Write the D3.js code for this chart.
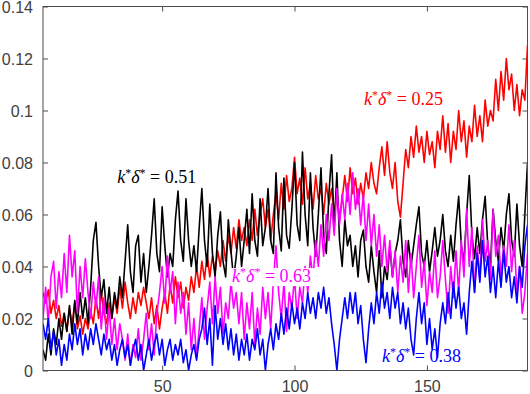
<!DOCTYPE html>
<html>
<head>
<meta charset="utf-8">
<script src="https://cdn.jsdelivr.net/npm/d3@7"></script>
<style>
  body { margin: 0; background: #fff; }
</style>
</head>
<body>
<div id="chart"></div>
<script>
// x positions (one sample per unit)
var xStart = 5;
var xEnd = 188;

// k*delta* = 0.25
var redVals = [
  0.030, 0.026, 0.031, 0.022, 0.027, 0.020, 0.025, 0.017, 0.022, 0.015,
  0.024, 0.018, 0.026, 0.016, 0.021, 0.014, 0.020, 0.016, 0.023, 0.018,
  0.028, 0.020, 0.030, 0.022, 0.018, 0.026, 0.020, 0.028, 0.022, 0.032,
  0.024, 0.034, 0.026, 0.020, 0.028, 0.022, 0.030, 0.025, 0.032, 0.026,
  0.020, 0.028, 0.018, 0.025, 0.016, 0.024, 0.030, 0.022, 0.033, 0.026,
  0.036, 0.028, 0.034, 0.024, 0.032, 0.027, 0.036, 0.030, 0.040, 0.032,
  0.042, 0.035, 0.045, 0.036, 0.044, 0.038, 0.046, 0.040, 0.050, 0.042,
  0.052, 0.045, 0.055, 0.047, 0.058, 0.050, 0.055, 0.048, 0.058, 0.050,
  0.062, 0.052, 0.060, 0.066, 0.055, 0.062, 0.050, 0.060, 0.068, 0.058,
  0.072, 0.062, 0.075, 0.065, 0.070, 0.082, 0.068, 0.074, 0.064, 0.078,
  0.066, 0.072, 0.062, 0.075, 0.066, 0.070, 0.060, 0.072, 0.064, 0.070,
  0.060, 0.068, 0.058, 0.066, 0.075, 0.065, 0.078, 0.068, 0.074, 0.064,
  0.072, 0.066, 0.076, 0.070, 0.080, 0.072, 0.068, 0.078, 0.086, 0.075,
  0.088, 0.076, 0.070, 0.080, 0.065, 0.059, 0.072, 0.085, 0.078, 0.090,
  0.082, 0.094, 0.084, 0.090, 0.080, 0.092, 0.083, 0.088, 0.078, 0.092,
  0.085, 0.098, 0.084, 0.095, 0.080, 0.092, 0.085, 0.100, 0.088, 0.096,
  0.082, 0.094, 0.088, 0.102, 0.090, 0.098, 0.088, 0.104, 0.094, 0.100,
  0.096, 0.112, 0.100, 0.115, 0.104, 0.120, 0.108, 0.114, 0.100, 0.110,
  0.098, 0.108, 0.104, 0.125
];

// k*delta* = 0.51
var blackVals = [
  0.008, 0.004, 0.014, 0.006, 0.016, 0.010, 0.020, 0.012, 0.022, 0.015,
  0.025, 0.014, 0.027, 0.018, 0.030, 0.020, 0.028, 0.018, 0.032, 0.050,
  0.057, 0.040, 0.028, 0.035, 0.022, 0.032, 0.020, 0.030, 0.024, 0.036,
  0.028, 0.042, 0.056, 0.038, 0.030, 0.048, 0.052, 0.034, 0.045, 0.030,
  0.040, 0.052, 0.066, 0.045, 0.038, 0.063, 0.048, 0.036, 0.045, 0.040,
  0.058, 0.069, 0.050, 0.042, 0.066, 0.050, 0.040, 0.048, 0.038, 0.055,
  0.070, 0.050, 0.040, 0.064, 0.045, 0.036, 0.052, 0.061, 0.042, 0.036,
  0.058, 0.046, 0.035, 0.044, 0.055, 0.040, 0.050, 0.062, 0.045, 0.068,
  0.050, 0.044, 0.066, 0.048, 0.055, 0.070, 0.050, 0.045, 0.076, 0.055,
  0.046, 0.074, 0.052, 0.047, 0.062, 0.080, 0.056, 0.050, 0.084, 0.060,
  0.048, 0.076, 0.055, 0.044, 0.060, 0.078, 0.052, 0.045, 0.068, 0.083,
  0.055, 0.076, 0.050, 0.040, 0.058, 0.048, 0.052, 0.040, 0.048, 0.036,
  0.050, 0.054, 0.040, 0.034, 0.048, 0.038, 0.030, 0.046, 0.028, 0.040,
  0.035, 0.048, 0.036, 0.045, 0.050, 0.058, 0.042, 0.036, 0.050, 0.040,
  0.048, 0.056, 0.063, 0.045, 0.040, 0.050, 0.038, 0.046, 0.055, 0.044,
  0.050, 0.060, 0.046, 0.040, 0.052, 0.042, 0.056, 0.067, 0.048, 0.042,
  0.060, 0.075, 0.052, 0.043, 0.055, 0.045, 0.058, 0.067, 0.048, 0.040,
  0.062, 0.050, 0.042, 0.055, 0.046, 0.060, 0.068, 0.050, 0.044, 0.064,
  0.048, 0.040, 0.060, 0.080
];

// k*delta* = 0.63
var magentaVals = [
  0.020, 0.032, 0.018, 0.036, 0.042, 0.024, 0.038, 0.028, 0.045, 0.030,
  0.052, 0.036, 0.046, 0.022, 0.040, 0.028, 0.043, 0.030, 0.020, 0.034,
  0.024, 0.036, 0.016, 0.028, 0.012, 0.024, 0.010, 0.020, 0.008, 0.018,
  0.012, 0.004, 0.014, 0.002, 0.010, 0.005, 0.016, 0.004, 0.012, 0.022,
  0.008, 0.018, 0.006, 0.022, 0.030, 0.040, 0.026, 0.044, 0.030, 0.038,
  0.018, 0.034, 0.022, 0.030, 0.014, 0.026, 0.008, 0.020, 0.005, 0.016,
  0.028, 0.012, 0.024, 0.034, 0.018, 0.036, 0.022, 0.032, 0.014, 0.026,
  0.020, 0.034, 0.024, 0.030, 0.018, 0.030, 0.012, 0.026, 0.016, 0.030,
  0.010, 0.024, 0.014, 0.032, 0.020, 0.030, 0.016, 0.034, 0.048, 0.030,
  0.020, 0.034, 0.015, 0.030, 0.024, 0.036, 0.020, 0.032, 0.026, 0.040,
  0.030, 0.044, 0.035, 0.050, 0.040, 0.056, 0.044, 0.060, 0.050, 0.064,
  0.052, 0.070, 0.056, 0.068, 0.058, 0.072, 0.060, 0.076, 0.062, 0.070,
  0.056, 0.068, 0.050, 0.064, 0.048, 0.060, 0.044, 0.056, 0.040, 0.052,
  0.038, 0.050, 0.036, 0.046, 0.030, 0.044, 0.034, 0.050, 0.030, 0.045,
  0.028, 0.040, 0.052, 0.032, 0.042, 0.025, 0.038, 0.030, 0.046, 0.028,
  0.036, 0.050, 0.035, 0.022, 0.040, 0.028, 0.046, 0.030, 0.050, 0.036,
  0.062, 0.040, 0.055, 0.030, 0.048, 0.035, 0.058, 0.042, 0.050, 0.035,
  0.062, 0.044, 0.052, 0.036, 0.048, 0.040, 0.056, 0.038, 0.050, 0.030,
  0.040, 0.022, 0.030, 0.045
];

// k*delta* = 0.38
var blueVals = [
  0.018, 0.012, 0.020, 0.008, 0.015, 0.006, 0.012, 0.002, 0.010, 0.004,
  0.014, 0.008, 0.018, 0.010, 0.016, 0.006, 0.014, 0.008, 0.016, 0.010,
  0.018, 0.012, 0.006, 0.014, 0.008, 0.012, 0.004, 0.010, 0.002, 0.008,
  0.012, 0.005, 0.010, 0.002, 0.008, 0.012, 0.004, 0.010, 0.000, 0.006,
  0.012, 0.004, 0.010, 0.014, 0.006, 0.012, 0.002, 0.008, 0.012, 0.004,
  0.010, 0.006, 0.012, 0.003, 0.008, 0.000, 0.006, 0.010, 0.004, 0.012,
  0.016, 0.024, 0.010, 0.020, 0.002, 0.025, 0.012, 0.020, 0.010, 0.018,
  0.008, 0.016, 0.006, 0.014, 0.004, 0.012, 0.006, 0.014, 0.004, 0.012,
  0.008, 0.016, 0.006, 0.012, 0.000, 0.010, 0.016, 0.008, 0.018, 0.012,
  0.022, 0.014, 0.024, 0.016, 0.026, 0.018, 0.024, 0.016, 0.026, 0.020,
  0.030, 0.022, 0.028, 0.020, 0.030, 0.024, 0.032, 0.022, 0.028, 0.018,
  0.010, 0.000, 0.012, 0.020, 0.028, 0.020, 0.030, 0.022, 0.030, 0.018,
  0.025, 0.012, 0.003, 0.016, 0.026, 0.018, 0.030, 0.022, 0.034, 0.024,
  0.030, 0.020, 0.032, 0.024, 0.030, 0.018, 0.026, 0.016, 0.024, 0.012,
  0.006, 0.020, 0.030, 0.018, 0.026, 0.010, 0.020, 0.008, 0.016, 0.005,
  0.018, 0.026, 0.018, 0.030, 0.020, 0.034, 0.024, 0.032, 0.020, 0.026,
  0.014, 0.030, 0.042, 0.030, 0.045, 0.034, 0.050, 0.036, 0.044, 0.030,
  0.040, 0.028, 0.042, 0.032, 0.046, 0.034, 0.040, 0.028, 0.036, 0.026,
  0.040, 0.032, 0.048, 0.056
];

var yTicks = [0, 0.02, 0.04, 0.06, 0.08, 0.1, 0.12, 0.14];
var xTicks = [50, 100, 150];

var seriesNames = ["0.25", "0.51", "0.63", "0.38"];
var seriesColors = ["#ff0000", "#000000", "#ff00ff", "#0000ff"];

// svg area
var svgWidth = 530;
var svgHeight = 394;

var margin = { top: 6.5, right: 2.5, bottom: 23.5, left: 43 };
var width = svgWidth - margin.left - margin.right;
var height = svgHeight - margin.top - margin.bottom;

var svg = d3.select("#chart")
  .append("svg")
  .attr("width", svgWidth)
  .attr("height", svgHeight);

var chartGroup = svg.append("g")
  .attr("transform", `translate(${margin.left}, ${margin.top})`);

var xScale = d3.scaleLinear().domain([xStart, xEnd]).range([0, width]);
var yScale = d3.scaleLinear().domain([0, 0.14]).range([height, 0]);

var xs = d3.range(xStart, xEnd + 1);
var allSeries = [redVals, blackVals, magentaVals, blueVals];

chartGroup.append("clipPath")
  .attr("id", "plotclip")
  .append("rect")
  .attr("width", width)
  .attr("height", height);

var line = d3.line()
  .x((d, i) => xScale(xs[i]))
  .y(d => yScale(d));

// lines, drawn red first and blue last
chartGroup.append("g")
  .attr("clip-path", "url(#plotclip)")
  .selectAll("path")
  .data(allSeries)
  .enter()
  .append("path")
  .attr("d", line)
  .attr("fill", "none")
  .attr("stroke", (d, i) => seriesColors[i])
  .attr("stroke-width", 1.6)
  .attr("stroke-linejoin", "round");

// axes: ticks point inward, box on all sides
var axisColor = "#4d4d4d";

function styleAxis(g) {
  g.select(".domain").remove();
  g.selectAll("line").attr("stroke", axisColor);
  g.selectAll("text")
    .attr("fill", "#404040")
    .attr("font-size", "16px")
    .attr("font-family", "'Liberation Sans', Arial, sans-serif");
}

var leftAxis = chartGroup.append("g")
  .call(d3.axisLeft(yScale).tickValues(yTicks).tickSizeInner(-5).tickSizeOuter(0).tickPadding(10)
    .tickFormat(d => d3.format("")(+d.toFixed(2))))
  .call(styleAxis);
leftAxis.selectAll("text").attr("dy", "0.38em");

chartGroup.append("g")
  .attr("transform", `translate(${width}, 0)`)
  .call(d3.axisRight(yScale).tickValues(yTicks).tickSizeInner(-5).tickSizeOuter(0).tickFormat(""))
  .call(styleAxis);

var bottomAxis = chartGroup.append("g")
  .attr("transform", `translate(0, ${height})`)
  .call(d3.axisBottom(xScale).tickValues(xTicks).tickSizeInner(-5).tickSizeOuter(0).tickPadding(10))
  .call(styleAxis);
bottomAxis.selectAll("text").attr("dy", "0.72em");

chartGroup.append("g")
  .call(d3.axisTop(xScale).tickValues(xTicks).tickSizeInner(-5).tickSizeOuter(0).tickFormat(""))
  .call(styleAxis);

chartGroup.append("rect")
  .attr("width", width)
  .attr("height", height)
  .attr("fill", "none")
  .attr("stroke", axisColor)
  .attr("stroke-width", 1);

// labels k*delta* = value, placed in data units
var labelX = [126.2, 33, 76.4, 133];
var labelY = [0.1021, 0.0721, 0.034, 0.0033];

var labels = svg.selectAll(".klabel")
  .data(seriesNames)
  .enter()
  .append("g")
  .attr("class", "klabel")
  .attr("transform", (d, i) => `translate(${margin.left + xScale(labelX[i])}, ${margin.top + yScale(labelY[i])})`);

// white box behind the 0.63 label
labels.filter((d, i) => i === 2)
  .append("rect")
  .attr("x", -2)
  .attr("y", -14)
  .attr("width", 88)
  .attr("height", 18)
  .attr("fill", "#fff");

var labelText = labels.append("text")
  .attr("font-family", "'Liberation Serif', 'Times New Roman', serif")
  .attr("font-size", "18px")
  .attr("fill", (d, i) => seriesColors[i]);

labelText.append("tspan").attr("font-style", "italic").text("k");
labelText.append("tspan").attr("dy", -6).attr("font-size", "12px").text("*");
labelText.append("tspan").attr("dy", 6).attr("font-style", "italic").text("δ");
labelText.append("tspan").attr("dy", -6).attr("font-size", "12px").text("*");
labelText.append("tspan").attr("dy", 6).text(d => " = " + d);
</script>
</body>
</html>
